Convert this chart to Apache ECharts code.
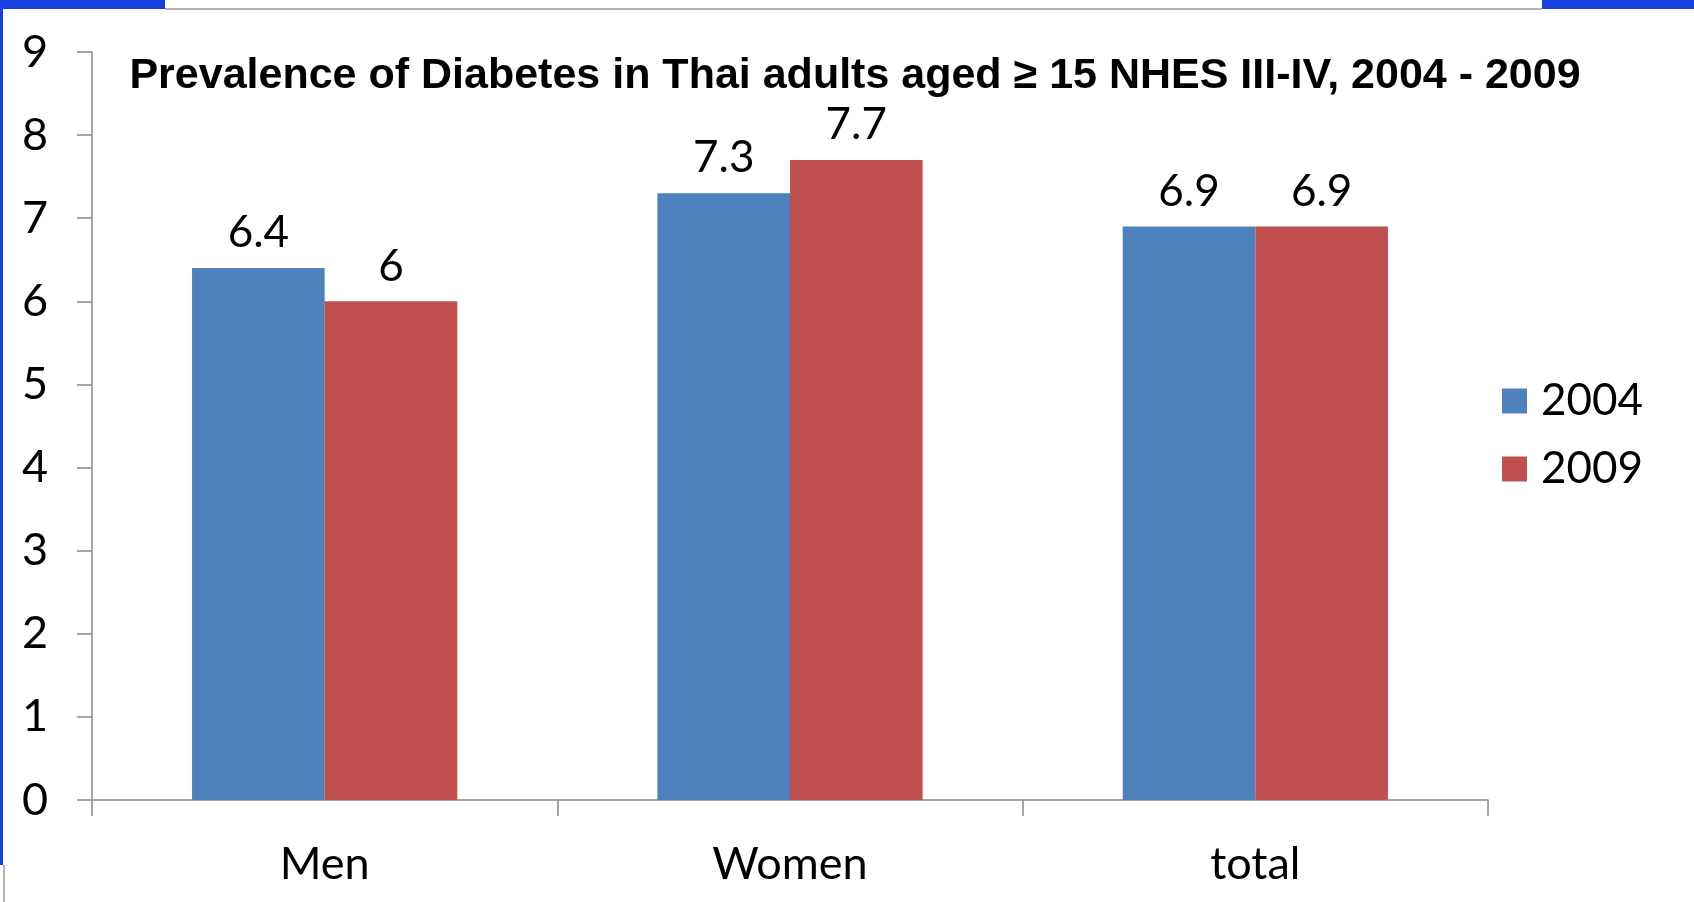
<!DOCTYPE html>
<html>
<head>
<meta charset="utf-8">
<script src="https://cdn.jsdelivr.net/npm/echarts@6/dist/echarts.min.js"></script>
<style>
  html, body { margin: 0; padding: 0; background: #fff; }
  #chart { width: 1694px; height: 902px; }
</style>
</head>
<body>
<div id="chart"></div>
<script>
// 数据
const categories = ["Men", "Women", "total"];
const years = ["2004", "2009"];
const values2004 = [6.4, 7.3, 6.9];
const values2009 = [6.0, 7.7, 6.9];
const yTicks = [0, 1, 2, 3, 4, 5, 6, 7, 8, 9];

const COLORS = ["#4F81BD", "#C0504D"];
const FONT = "Lato";

const chart = echarts.init(document.getElementById("chart"));

function barSeries(name, data, color) {
  return {
    name: name, type: "bar", data: data,
    barGap: "0%", barCategoryGap: "43%",
    itemStyle: { color: color },
    label: {
      show: true, position: "top", distance: 13,
      formatter: (p) => String(p.value),
      color: "#000", fontSize: 44, fontFamily: FONT,
    },
  };
}

const opt = {
  backgroundColor: "#fff",
  animation: false,
  title: {
    text: "Prevalence of Diabetes in Thai adults aged \u2265 15 NHES III-IV, 2004 - 2009",
    left: 850, top: 50, textAlign: "center",
    textStyle: { fontFamily: "Liberation Sans", fontWeight: "bold", fontSize: 43, color: "#000" },
  },
  legend: {
    orient: "vertical", left: 1497, top: 374,
    itemWidth: 25, itemHeight: 25, itemGap: 24,
    icon: "rect",
    textStyle: { fontFamily: FONT, fontSize: 44, color: "#000", padding: [0, 0, 0, 9] },
    data: years,
  },
  grid: { left: 92, right: 206, top: 52, bottom: 102 },
  xAxis: {
    type: "category", data: categories,
    axisLine: { lineStyle: { color: "#888", width: 1.5 } },
    axisTick: { show: true, length: 16, lineStyle: { color: "#888", width: 1.5 } },
    axisLabel: { color: "#000", fontSize: 45, fontFamily: FONT, margin: 42 },
  },
  yAxis: {
    type: "value", min: 0, max: 9, interval: 1,
    axisLine: { show: true, lineStyle: { color: "#888", width: 1.5 } },
    axisTick: { show: true, length: 15, lineStyle: { color: "#888", width: 1.5 } },
    axisLabel: {
      color: "#000", fontSize: 45, fontFamily: FONT, margin: 44,
      formatter: (v) => yTicks.includes(v) ? String(v) : "",
    },
    splitLine: { show: false },
  },
  series: [
    barSeries(years[0], values2004, COLORS[0]),
    barSeries(years[1], values2009, COLORS[1]),
  ],
  // 截取幻灯片的边框残留
  graphic: [
    { type: "rect", shape: { x: 0, y: 0, width: 165, height: 9 }, style: { fill: "#1a3fe0" } },
    { type: "rect", shape: { x: 1542, y: 0, width: 152, height: 9 }, style: { fill: "#1a3fe0" } },
    { type: "line", shape: { x1: 165, y1: 9, x2: 1542, y2: 9 }, style: { stroke: "#999", lineWidth: 1.5 } },
    { type: "rect", shape: { x: 0, y: 9, width: 3, height: 856 }, style: { fill: "#1a3fe0" } },
    { type: "line", shape: { x1: 4, y1: 865, x2: 4, y2: 902 }, style: { stroke: "#999", lineWidth: 1.5 } },
  ],
};

chart.setOption(opt);
</script>
</body>
</html>
